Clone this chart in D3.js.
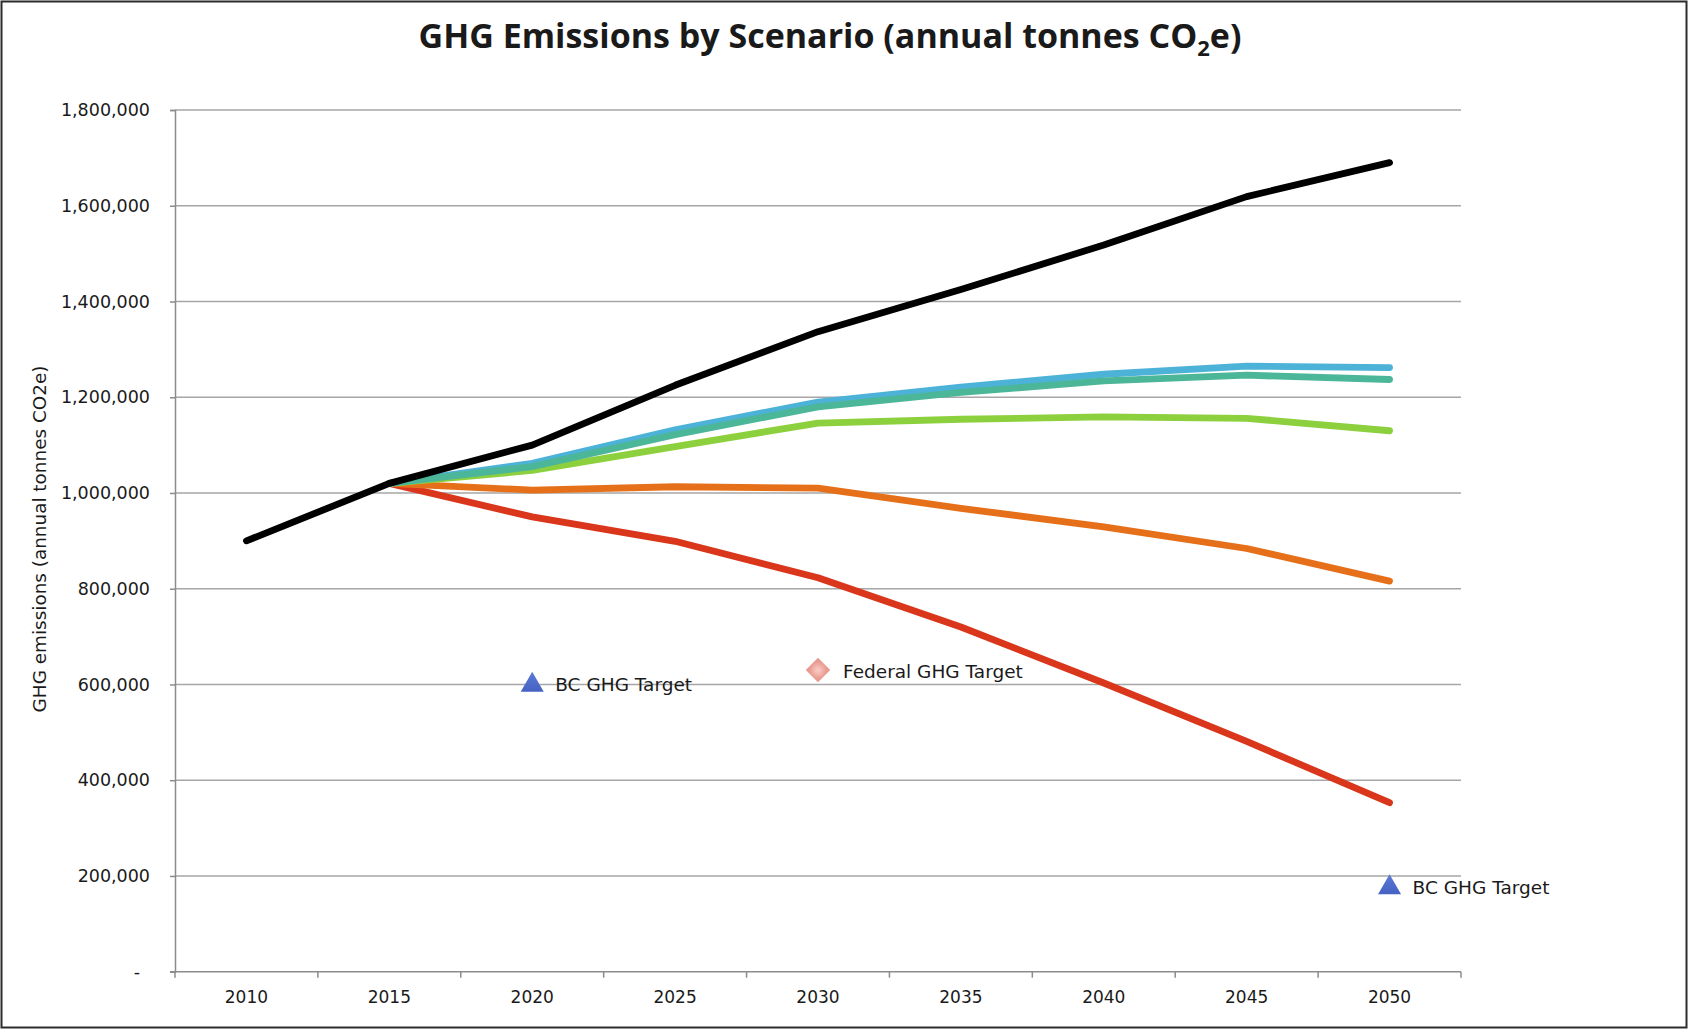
<!DOCTYPE html>
<html>
<head>
<meta charset="utf-8">
<script src="https://cdn.jsdelivr.net/npm/d3@7"></script>
<style>
  html, body { margin: 0; padding: 0; background: #fff; }
  svg { display: block; }
  text { font-family: "DejaVu Sans", Verdana, sans-serif; fill: #1a1a1a; }
</style>
</head>
<body>
<svg id="chart" width="1688" height="1029"></svg>
<script>
// ---------- data ----------
const years = ["2010", "2015", "2020", "2025", "2030", "2035", "2040", "2045", "2050"];

const bauValues    = [900000, 1020000, 1100000, 1225000, 1337000, 1425000, 1518000, 1619000, 1690000];
const blueValues   = [null,   1020000, 1062000, 1132000, 1190000, 1221000, 1248000, 1265000, 1262000];
const tealValues   = [null,   1020000, 1055000, 1122000, 1180000, 1210000, 1234000, 1246000, 1237000];
const greenValues  = [null,   1020000, 1047000, 1097000, 1146000, 1154000, 1159000, 1156000, 1130000];
const orangeValues = [null,   1020000, 1006000, 1013000, 1010000,  968000,  929000,  884000,  816000];
const redValues    = [null,   1020000,  950000,  899000,  823000,  720000,  603000,  481000,  353000];

const seriesColors = ["#d9361c", "#e6701a", "#8dd03e", "#4db2d8", "#4cb698", "#000000"];
const seriesList   = [redValues, orangeValues, greenValues, blueValues, tealValues, bauValues];

const bcTargetYears   = ["2020", "2050"];
const bcTargetValues  = [603000, 180000];
const fedTargetYears  = ["2030"];
const fedTargetValues = [630000];

const yTicks = [0, 200000, 400000, 600000, 800000, 1000000, 1200000, 1400000, 1600000, 1800000];

// ---------- layout ----------
const svg = d3.select("#chart");
const W = 1688, H = 1029;
const plot = { left: 175, right: 1461, top: 110, bottom: 971.7 };

const x = d3.scaleBand().domain(years).range([plot.left, plot.right]).padding(0);
const y = d3.scaleLinear().domain([0, 1800000]).range([plot.bottom, plot.top]);
const cx = d => x(d) + x.bandwidth() / 2;

// outer frame
svg.append("rect").attr("x", 1.5).attr("y", 1.5).attr("width", W - 3).attr("height", H - 3)
  .attr("fill", "#fff").attr("stroke", "#2b2b2b").attr("stroke-width", 2);

// defs
const defs = svg.append("defs");
const tri = defs.append("linearGradient").attr("id", "triGrad").attr("x1", 0).attr("y1", 0).attr("x2", 0).attr("y2", 1);
tri.append("stop").attr("offset", "0%").attr("stop-color", "#5d7ad6");
tri.append("stop").attr("offset", "100%").attr("stop-color", "#4561c2");
const dia = defs.append("radialGradient").attr("id", "diaGrad");
dia.append("stop").attr("offset", "0%").attr("stop-color", "#f9cfc8");
dia.append("stop").attr("offset", "100%").attr("stop-color", "#e99a90");

// gridlines
svg.append("g").selectAll("line").data(yTicks.filter(v => v > 0)).join("line")
  .attr("x1", plot.left).attr("x2", plot.right)
  .attr("y1", d => y(d)).attr("y2", d => y(d))
  .attr("stroke", "#a6a6a6").attr("stroke-width", 1.5);

// y axis
const yAxis = svg.append("g").attr("transform", `translate(${plot.left},0)`)
  .call(d3.axisLeft(y).tickValues(yTicks).tickSize(5).tickPadding(20)
    .tickFormat(d => d === 0 ? "-" : d3.format(",")(d)));
yAxis.select(".domain").attr("stroke", "#8c8c8c").attr("stroke-width", 1.5);
yAxis.selectAll(".tick line").attr("stroke", "#8c8c8c").attr("stroke-width", 1.5);
yAxis.selectAll(".tick text").style("font-family", "DejaVu Sans").style("font-size", "17.5px").attr("fill", "#1a1a1a");
yAxis.selectAll(".tick text").filter(d => d === 0).attr("dx", -10);

// x axis
const xAxis = svg.append("g").attr("transform", `translate(0,${plot.bottom})`);
xAxis.append("line").attr("x1", plot.left - 5).attr("x2", plot.right)
  .attr("stroke", "#8c8c8c").attr("stroke-width", 1.5);
const bounds = years.map(d => x(d)).concat([plot.right]);
xAxis.selectAll("line.tk").data(bounds).join("line").attr("class", "tk")
  .attr("x1", d => d).attr("x2", d => d).attr("y1", 0).attr("y2", 6)
  .attr("stroke", "#8c8c8c").attr("stroke-width", 1.5);
xAxis.selectAll("text").data(years).join("text")
  .attr("x", d => cx(d)).attr("y", 31).attr("text-anchor", "middle")
  .style("font-size", "17px").text(d => d);

// lines
const line = d3.line().defined(d => d[1] != null)
  .x(d => cx(d[0])).y(d => y(d[1]));
svg.append("g").selectAll("path").data(seriesList).join("path")
  .attr("d", vals => line(years.map((yr, i) => [yr, vals[i]])))
  .attr("fill", "none")
  .attr("stroke", (d, i) => seriesColors[i])
  .attr("stroke-width", 6.8)
  .attr("stroke-linejoin", "round")
  .attr("stroke-linecap", "round");

// BC targets
const triSize = Math.sqrt(3) / 4 * 23 * 23;
const bcG = svg.append("g");
bcG.selectAll("path").data(bcTargetYears).join("path")
  .attr("d", d3.symbol().type(d3.symbolTriangle).size(triSize))
  .attr("transform", (d, i) => `translate(${cx(d)},${y(bcTargetValues[i]) + 2})`)
  .attr("fill", "url(#triGrad)");
bcG.selectAll("text").data(bcTargetYears).join("text")
  .attr("x", d => cx(d) + 23).attr("y", (d, i) => y(bcTargetValues[i]) + 8)
  .style("font-size", "18.5px").text("BC GHG Target");

// Federal target
const fedG = svg.append("g");
fedG.selectAll("path").data(fedTargetYears).join("path")
  .attr("d", d3.symbol().type(d3.symbolSquare).size(300))
  .attr("transform", (d, i) => `translate(${cx(d)},${y(fedTargetValues[i])}) rotate(45)`)
  .attr("fill", "url(#diaGrad)");
fedG.selectAll("text").data(fedTargetYears).join("text")
  .attr("x", d => cx(d) + 25).attr("y", (d, i) => y(fedTargetValues[i]) + 8)
  .style("font-size", "18.5px").text("Federal GHG Target");

// y axis title
svg.append("text")
  .attr("transform", `translate(46,539) rotate(-90)`)
  .attr("text-anchor", "middle")
  .style("font-size", "18.4px")
  .text("GHG emissions (annual tonnes CO2e)");

// title
const title = svg.append("text")
  .attr("x", 830).attr("y", 48).attr("text-anchor", "middle")
  .style("font-family", "'Open Sans', sans-serif").style("font-weight", "bold").style("font-size", "34px")
  .attr("fill", "#000");
title.append("tspan").text("GHG Emissions by Scenario (annual tonnes CO");
title.append("tspan").attr("dy", 8).style("font-size", "22px").text("2");
title.append("tspan").attr("dy", -8).text("e)");
</script>
</body>
</html>
